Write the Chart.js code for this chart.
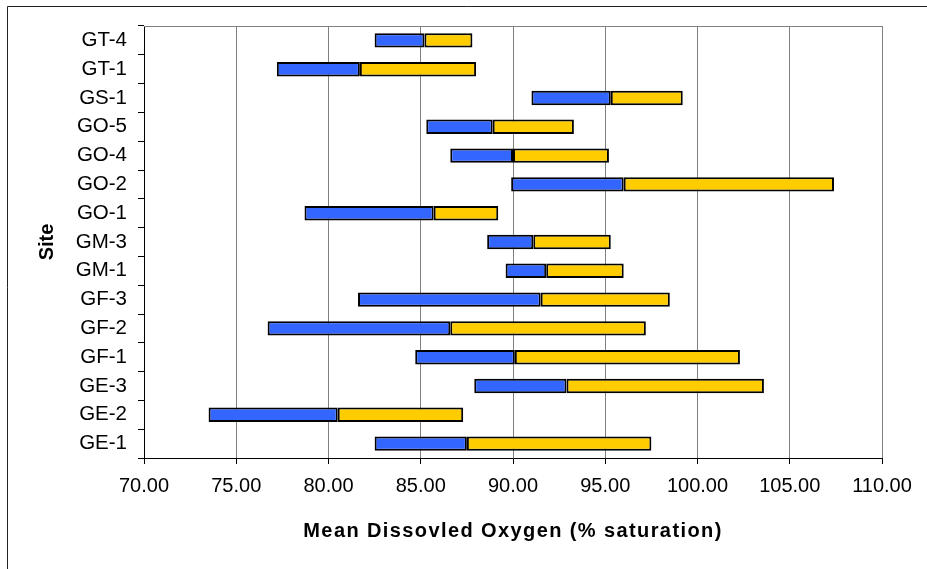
<!DOCTYPE html>
<html>
<head>
<meta charset="utf-8">
<script src="https://cdn.jsdelivr.net/npm/chart.js@4.4.0/dist/chart.umd.min.js"></script>
<style>
  html, body { margin: 0; padding: 0; background: #fff; }
  #wrap { position: absolute; left: 0; top: 0; width: 927px; height: 569px; }
</style>
</head>
<body>
<div id="wrap"><canvas id="chart" width="927" height="569"></canvas></div>
<script>
// sites, listed top to bottom as in the picture
const sites = ['GT-4', 'GT-1', 'GS-1', 'GO-5', 'GO-4', 'GO-2', 'GO-1', 'GM-3', 'GM-1', 'GF-3', 'GF-2', 'GF-1', 'GE-3', 'GE-2', 'GE-1'];
const minDO  = [82.5, 77.2, 91.0, 85.3, 86.6, 89.9, 78.7, 88.6, 89.6, 81.6, 76.7, 84.7, 87.9, 73.5, 82.5];
const meanDO = [85.2, 81.7, 95.3, 88.9, 90.0, 96.0, 85.7, 91.1, 91.8, 91.5, 86.6, 90.1, 92.9, 80.5, 87.5];
const maxDO  = [87.8, 88.0, 99.2, 93.3, 95.2, 107.4, 89.2, 95.3, 96.0, 98.5, 97.2, 102.3, 103.6, 87.3, 97.5];
const xTicks = [70, 75, 80, 85, 90, 95, 100, 105, 110];
const xTitle = 'Mean Dissovled Oxygen (% saturation)';

const lowerBars = sites.map((s, i) => [minDO[i], meanDO[i]]);
const upperBars = sites.map((s, i) => [meanDO[i], maxDO[i]]);

const frame = {
    id: 'frame',
    beforeDatasetsDraw(chart) {
        const {ctx, chartArea} = chart;
        ctx.save();
        ctx.strokeStyle = '#808080';
        ctx.lineWidth = 1;
        ctx.beginPath();
        ctx.moveTo(chartArea.left, chartArea.top + 0.5);
        ctx.lineTo(chartArea.right, chartArea.top + 0.5);
        ctx.stroke();
        ctx.restore();
    },
    afterDraw(chart) {
        const {ctx, chartArea} = chart;
        ctx.save();
        // x axis title, spaced out like the original
        ctx.font = 'bold 20px "Liberation Sans", Arial, sans-serif';
        ctx.letterSpacing = '1.4px';
        ctx.fillStyle = '#000';
        ctx.textAlign = 'center';
        ctx.textBaseline = 'middle';
        ctx.fillText(xTitle, (chartArea.left + chartArea.right) / 2, 531);
        // outer frame
        ctx.strokeStyle = '#222';
        ctx.lineWidth = 1;
        ctx.beginPath();
        ctx.moveTo(7.5, 569);
        ctx.lineTo(7.5, 6.5);
        ctx.lineTo(927, 6.5);
        ctx.stroke();
        ctx.restore();
    }
};

new Chart(document.getElementById('chart').getContext('2d'), {
    type: 'bar',
    data: {
        labels: sites,
        datasets: [{
            label: 'Min to mean',
            data: lowerBars,
            backgroundColor: '#3366FF',
            borderColor: '#000',
            borderWidth: 2,
            borderSkipped: false,
            grouped: false,
            barPercentage: 0.5,
            categoryPercentage: 1
        }, {
            label: 'Mean to max',
            data: upperBars,
            backgroundColor: '#FFCC00',
            borderColor: '#000',
            borderWidth: 2,
            borderSkipped: false,
            grouped: false,
            barPercentage: 0.5,
            categoryPercentage: 1
        }]
    },
    options: {
        indexAxis: 'y',
        responsive: false,
        animation: false,
        layout: {
            padding: { left: 0, right: 45, top: 26, bottom: 0 }
        },
        plugins: {
            legend: { display: false },
            tooltip: { enabled: false }
        },
        scales: {
            x: {
                type: 'linear',
                min: 70,
                max: 110,
                afterBuildTicks: scale => {
                    scale.ticks = xTicks.map(v => ({ value: v }));
                },
                afterFit: scale => { scale.height = 111; },
                grid: {
                    color: '#808080',
                    tickColor: '#000',
                    tickLength: 6,
                    lineWidth: 1
                },
                border: { color: '#000', width: 1 },
                ticks: {
                    color: '#000',
                    padding: 10,
                    maxRotation: 0,
                    font: { family: 'Liberation Sans, Arial, sans-serif', size: 20 },
                    callback: v => Number(v).toFixed(2)
                },
                title: { display: false }
            },
            y: {
                afterFit: scale => { scale.width = 144; },
                grid: {
                    offset: true,
                    drawOnChartArea: false,
                    color: '#000',
                    tickLength: 6
                },
                border: { color: '#000', width: 1 },
                ticks: {
                    color: '#000',
                    padding: 11,
                    autoSkip: false,
                    font: { family: 'Liberation Sans, Arial, sans-serif', size: 20.5 }
                },
                title: {
                    display: true,
                    text: 'Site',
                    color: '#000',
                    padding: { top: 35, bottom: 0 },
                    font: { family: 'Liberation Sans, Arial, sans-serif', size: 20, weight: 'bold' }
                }
            }
        }
    },
    plugins: [frame]
});
</script>
</body>
</html>
